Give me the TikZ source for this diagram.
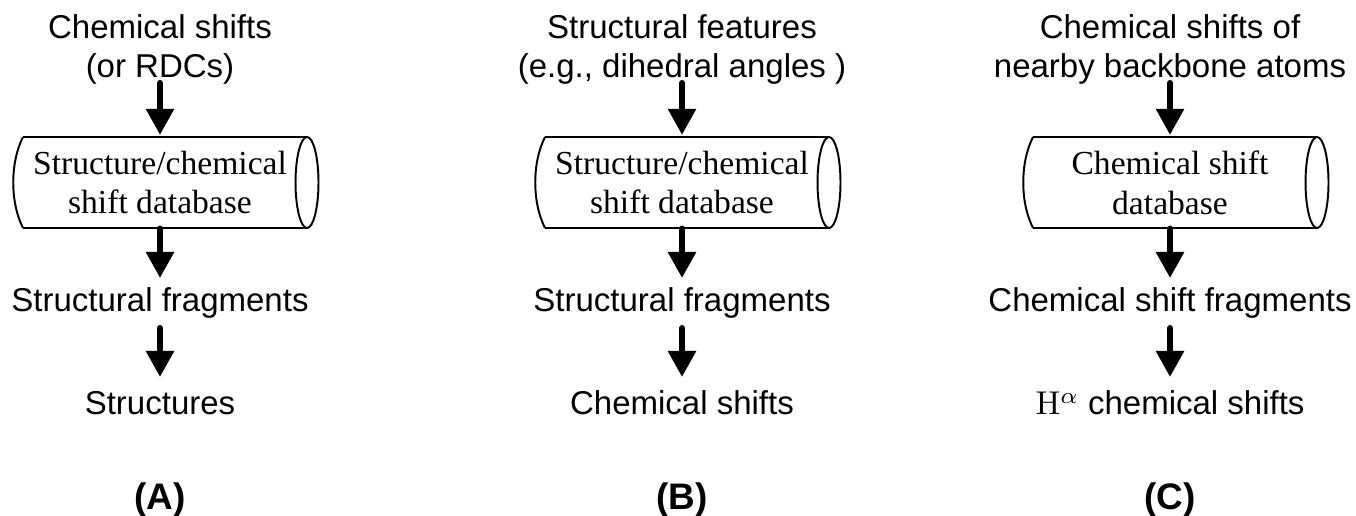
\documentclass[tikz,border=0pt]{standalone}
\usepackage{fix-cm}
\usepackage[no-math]{fontspec}
\setmainfont{Liberation Sans}
\newfontfamily\dbfont{Liberation Serif}
\usetikzlibrary{arrows.meta}
\begin{document}
\begin{tikzpicture}[x=0.33333pt,y=-0.33333pt,
  lbl/.style={inner sep=0pt, font=\fontsize{11}{13}\selectfont, align=center},
  dbnode/.style={inner sep=0pt, font=\dbfont\fontsize{11.2}{13.3}\selectfont, align=center,
    minimum width=94.67pt, minimum height=30.33pt},
  cylline/.style={line width=0.65pt},
  arr/.style={line width=2pt, line cap=round, -{Triangle[length=8.7pt,width=9pt]}},
  tag/.style={inner sep=0pt, font=\bfseries\fontsize{12.3}{14}\selectfont, anchor=base}]
\useasboundingbox (0,0) rectangle (1356,516);
\fill[white] (0,0) rectangle (1356,516);

% ---------- Panel A ----------
\node[lbl, anchor=south] (tA) at (160,85) {Chemical shifts\\(or RDCs)};
\node[dbnode] (dA) at (160,182.5) {Structure/chemical\\shift database};
\node[lbl, anchor=base] (fA) at (160,312) {Structural fragments};
\node[lbl, anchor=base] (rA) at (160,415) {Structures};
\node[tag] (lA) at (160,510) {(A)};

% ---------- Panel B ----------
\node[lbl, anchor=south] (tB) at (682,85) {Structural features\\(e.g., dihedral angles )};
\node[dbnode] (dB) at (682,182.5) {Structure/chemical\\shift database};
\node[lbl, anchor=base] (fB) at (682,312) {Structural fragments};
\node[lbl, anchor=base] (rB) at (682,415) {Chemical shifts};
\node[tag] (lB) at (682,510) {(B)};

% ---------- Panel C ----------
\node[lbl, anchor=south] (tC) at (1170,85) {Chemical shifts of\\nearby backbone atoms};
\node[dbnode] (dC) at (1170,182.5) {Chemical shift\\database};
\node[lbl, anchor=base] (fC) at (1170,312) {Chemical shift fragments};
\node[lbl, anchor=base] (rC) at (1170,415) {$\mathrm{H}^{\alpha}$ chemical shifts};
\node[tag] (lC) at (1170,510) {(C)};

% cylinders
\foreach \d in {dA,dB,dC}{
  \draw[cylline,shift={(\d.center)}]
    (-137,-45.5) -- (147,-45.5)
    (-137,45.5) -- (147,45.5)
    (-137,-45.5) .. controls (-150,-20) and (-150,20) .. (-137,45.5)
    (147,0) ellipse [x radius=3.83pt, y radius=15.17pt];
}

% arrows
\foreach \p in {A,B,C}{
  \draw[arr] ([yshift=0.67pt]t\p.south) -- ([yshift=0.5pt]d\p.north);
  \draw[arr] (d\p.south) -- ([yshift=11.33pt]f\p.base);
  \draw[arr] ([yshift=-5.33pt]f\p.base) -- ([yshift=12.67pt]r\p.base);
}
\end{tikzpicture}
\end{document}
